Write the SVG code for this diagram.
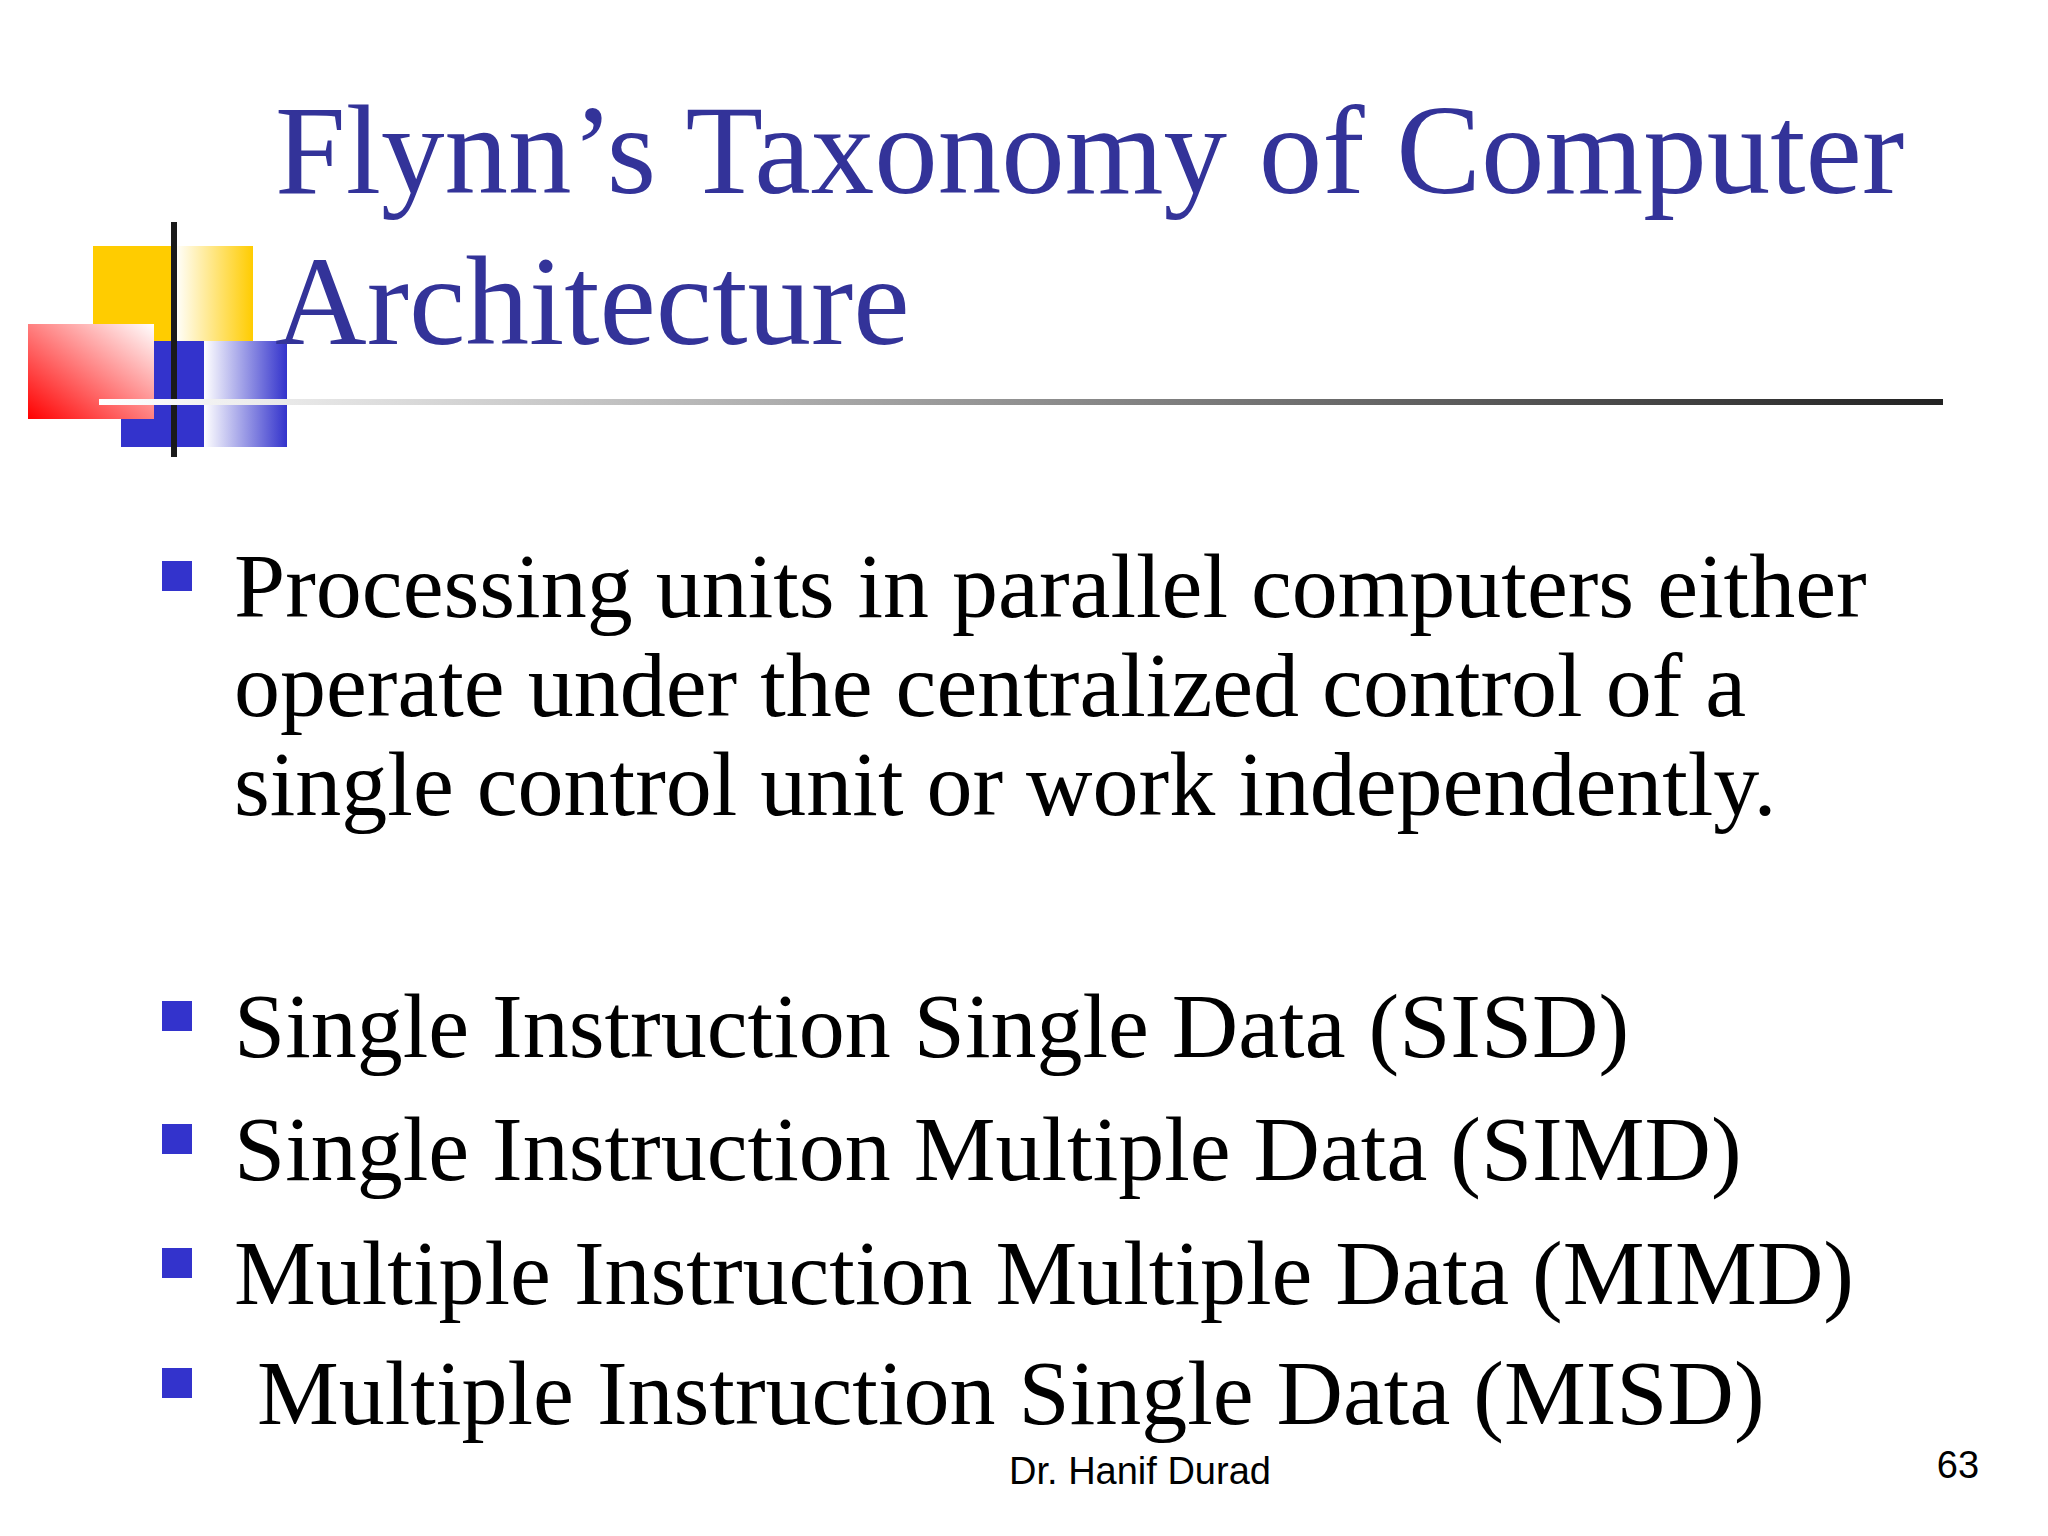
<svg xmlns="http://www.w3.org/2000/svg" width="2048" height="1536" viewBox="0 0 2048 1536">
<defs>
<linearGradient id="gy" x1="0" x2="1" y1="0" y2="0"><stop offset="0" stop-color="#fff"/><stop offset="1" stop-color="#ffcc00"/></linearGradient>
<linearGradient id="gb" x1="0" x2="1" y1="0" y2="0"><stop offset="0" stop-color="#fff"/><stop offset="1" stop-color="#3333cc"/></linearGradient>
<linearGradient id="gr" x1="0" x2="1" y1="1" y2="0"><stop offset="0" stop-color="#ff0000"/><stop offset="1" stop-color="#fff"/></linearGradient>
<linearGradient id="gl" x1="0" x2="1" y1="0" y2="0"><stop offset="0" stop-color="#fff"/><stop offset="1" stop-color="#222"/></linearGradient>
<style>
.t{font-family:"Liberation Serif",serif;fill:#333399;font-size:127px}
.b{font-family:"Liberation Serif",serif;fill:#000;font-size:92px}
.sq{fill:#3333cc}
.f{font-family:"Liberation Sans",sans-serif;font-size:38px;fill:#000}
</style>
</defs>
<rect width="2048" height="1536" fill="#fff"/>
<g id="logo">
<rect x="93" y="246" width="82" height="95" fill="#ffcc00"/>
<rect x="175" y="246" width="78" height="95" fill="url(#gy)"/>
<rect x="121" y="341" width="83" height="106" fill="#3333cc"/>
<rect x="204" y="341" width="83" height="106" fill="url(#gb)"/>
<rect x="28" y="324" width="126" height="95" fill="url(#gr)"/>
<rect x="171" y="222" width="6" height="235" fill="#1a1a1a"/>
<rect x="99" y="399" width="1844" height="6" fill="url(#gl)"/>
</g>
<g id="title">
<text class="t" x="275" y="193">Flynn’s Taxonomy of Computer</text>
<text class="t" x="275" y="344">Architecture</text>
</g>
<g id="bullets">
<rect class="sq" x="162" y="561" width="30" height="30"/>
<text class="b" x="234" y="617">Processing units in parallel computers either</text>
<text class="b" x="234" y="716">operate under the centralized control of a</text>
<text class="b" x="234" y="815">single control unit or work independently.</text>
<rect class="sq" x="162" y="1001" width="30" height="30"/>
<text class="b" x="234" y="1057">Single Instruction Single Data (SISD)</text>
<rect class="sq" x="162" y="1124" width="30" height="30"/>
<text class="b" x="234" y="1180">Single Instruction Multiple Data (SIMD)</text>
<rect class="sq" x="162" y="1248" width="30" height="30"/>
<text class="b" x="234" y="1304">Multiple Instruction Multiple Data (MIMD)</text>
<rect class="sq" x="162" y="1368" width="30" height="30"/>
<text class="b" x="257" y="1424">Multiple Instruction Single Data (MISD)</text>
</g>
<g id="footer">
<text class="f" x="1140" y="1484" text-anchor="middle">Dr. Hanif Durad</text>
<text class="f" x="1958" y="1478" text-anchor="middle">63</text>
</g>
</svg>
